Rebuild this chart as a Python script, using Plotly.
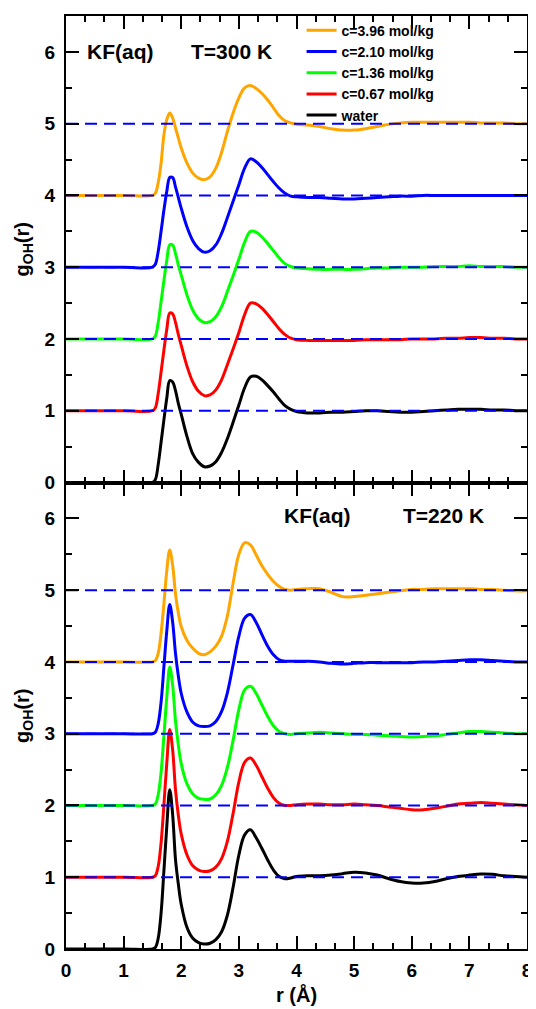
import plotly.graph_objects as go
from plotly.subplots import make_subplots

# ---------------- data ----------------
r = [0.0, 1.0, 1.5, 1.55, 1.6, 1.65, 1.7, 1.75, 1.8, 1.85, 1.9, 1.95,
     2.0, 2.1, 2.2, 2.3, 2.4, 2.5, 2.6, 2.7, 2.8, 2.9, 3.0, 3.1, 3.2, 3.3,
     3.4, 3.5, 3.6, 3.7, 3.8, 3.9, 4.0,
     4.2, 4.4, 4.6, 4.8, 5.0, 5.2, 5.4, 5.6, 5.8, 6.0, 6.2, 6.4, 6.6, 6.8,
     7.0, 7.2, 7.4, 7.6, 7.8, 8.0]

labels = ["c=3.96 mol/kg", "c=2.10 mol/kg", "c=1.36 mol/kg", "c=0.67 mol/kg", "water"]
colors = ["#FFA500", "#0000FF", "#00FF00", "#FF0000", "#000000"]
offsets = [4, 3, 2, 1, 0]
dash_levels = [1, 2, 3, 4, 5]

# T = 300 K
g300_c396 = [0, 0, 0, 0.03, 0.18, 0.45, 0.85, 1.06, 1.15, 1.08, 0.94, 0.80,
             0.66, 0.45, 0.31, 0.24, 0.22, 0.26, 0.38, 0.60, 0.89, 1.15, 1.36, 1.50, 1.53, 1.49,
             1.42, 1.33, 1.22, 1.11, 1.04, 1.01, 0.99,
             0.98, 0.96, 0.93, 0.91, 0.91, 0.93, 0.96, 0.99, 1.01, 1.02, 1.02, 1.02, 1.02, 1.02,
             1.02, 1.01, 1.01, 1.01, 1.00, 1.00]
g300_c210 = [0, 0, 0, 0.04, 0.22, 0.50, 0.80, 1.06, 1.25, 1.25, 1.12, 0.97,
             0.82, 0.56, 0.37, 0.26, 0.21, 0.23, 0.31, 0.47, 0.69, 0.92, 1.15, 1.38, 1.51, 1.47,
             1.39, 1.29, 1.19, 1.10, 1.03, 0.99, 0.98,
             0.97, 0.97, 0.96, 0.95, 0.95, 0.96, 0.97, 0.98, 0.99, 0.99, 1.00, 1.00, 1.00, 1.00,
             1.00, 1.00, 1.00, 1.00, 1.00, 1.00]
g300_c136 = [0, 0, 0, 0.04, 0.23, 0.52, 0.82, 1.10, 1.31, 1.31, 1.19, 1.03,
             0.89, 0.61, 0.40, 0.28, 0.23, 0.24, 0.31, 0.45, 0.66, 0.88, 1.11, 1.35, 1.50, 1.49,
             1.42, 1.33, 1.23, 1.13, 1.05, 1.01, 0.99,
             0.98, 0.97, 0.97, 0.97, 0.97, 0.98, 0.99, 0.99, 1.00, 1.00, 1.00, 1.01, 1.01, 1.01,
             1.02, 1.01, 1.01, 1.01, 1.00, 1.00]
g300_c067 = [0, 0, 0, 0.04, 0.24, 0.54, 0.85, 1.14, 1.36, 1.35, 1.23, 1.06,
             0.91, 0.62, 0.40, 0.27, 0.21, 0.22, 0.29, 0.43, 0.64, 0.86, 1.09, 1.34, 1.50, 1.49,
             1.43, 1.34, 1.24, 1.14, 1.06, 1.01, 0.99,
             0.98, 0.98, 0.98, 0.98, 0.98, 0.99, 0.99, 0.99, 0.99, 1.00, 1.00, 1.00, 1.01, 1.01,
             1.02, 1.02, 1.01, 1.01, 1.00, 1.00]
g300_water = [0, 0, 0, 0.04, 0.25, 0.56, 0.88, 1.18, 1.42, 1.40, 1.28, 1.10,
              0.95, 0.64, 0.40, 0.28, 0.22, 0.23, 0.29, 0.42, 0.61, 0.84, 1.08, 1.32, 1.47, 1.48,
              1.43, 1.35, 1.26, 1.16, 1.07, 1.02, 0.99,
              0.97, 0.97, 0.98, 0.98, 0.99, 1.00, 1.00, 0.99, 0.98, 0.98, 0.99, 1.00, 1.01, 1.02,
              1.02, 1.02, 1.01, 1.01, 1.00, 1.00]

# T = 220 K
g220_c396 = [0, 0, 0, 0.02, 0.12, 0.40, 0.82, 1.28, 1.56, 1.35, 0.95, 0.68,
             0.49, 0.30, 0.19, 0.12, 0.10, 0.14, 0.22, 0.36, 0.64, 1.10, 1.50, 1.66, 1.63, 1.49,
             1.34, 1.22, 1.12, 1.05, 1.01, 1.00, 1.01,
             1.02, 1.02, 0.97, 0.91, 0.91, 0.93, 0.95, 0.97, 0.99, 1.01, 1.01, 1.02, 1.02, 1.02,
             1.02, 1.01, 1.01, 1.00, 0.99, 0.99]
g220_c210 = [0, 0, 0, 0.02, 0.14, 0.44, 0.94, 1.44, 1.80, 1.56, 1.12, 0.80,
             0.56, 0.30, 0.16, 0.11, 0.10, 0.11, 0.17, 0.31, 0.57, 0.96, 1.36, 1.61, 1.66, 1.55,
             1.38, 1.22, 1.10, 1.03, 1.01, 1.01, 1.01,
             1.01, 1.00, 0.98, 0.97, 0.98, 0.99, 0.99, 0.99, 0.99, 0.99, 1.00, 1.00, 1.01, 1.02,
             1.03, 1.03, 1.02, 1.01, 1.00, 1.00]
g220_c136 = [0, 0, 0, 0.02, 0.15, 0.46, 0.98, 1.52, 1.93, 1.68, 1.18, 0.84,
             0.58, 0.30, 0.16, 0.10, 0.085, 0.09, 0.15, 0.28, 0.53, 0.91, 1.34, 1.61, 1.66, 1.56,
             1.40, 1.24, 1.11, 1.03, 1.00, 0.99, 1.00,
             1.01, 1.02, 1.01, 1.00, 0.99, 0.99, 0.98, 0.97, 0.96, 0.955, 0.96, 0.97, 0.99, 1.01,
             1.03, 1.03, 1.02, 1.01, 1.00, 1.00]
g220_c067 = [0, 0, 0, 0.02, 0.15, 0.48, 1.02, 1.60, 2.06, 1.78, 1.22, 0.86,
             0.60, 0.31, 0.16, 0.10, 0.08, 0.09, 0.14, 0.26, 0.50, 0.89, 1.33, 1.60, 1.66, 1.56,
             1.40, 1.24, 1.11, 1.03, 1.00, 1.00, 1.01,
             1.02, 1.02, 1.01, 1.01, 1.02, 1.01, 1.00, 0.98, 0.96, 0.94, 0.94, 0.96, 0.99, 1.02,
             1.03, 1.04, 1.03, 1.02, 1.01, 1.00]
g220_water = [0, 0, 0, 0.02, 0.15, 0.50, 1.10, 1.72, 2.22, 1.88, 1.25, 0.90,
              0.62, 0.30, 0.15, 0.09, 0.07, 0.08, 0.13, 0.24, 0.47, 0.86, 1.31, 1.59, 1.66, 1.55,
              1.40, 1.24, 1.10, 1.01, 0.98, 0.99, 1.01,
              1.02, 1.02, 1.03, 1.05, 1.07, 1.06, 1.03, 0.98, 0.94, 0.92, 0.92, 0.94, 0.98, 1.01,
              1.03, 1.045, 1.04, 1.02, 1.01, 1.00]

series300 = [g300_c396, g300_c210, g300_c136, g300_c067, g300_water]
series220 = [g220_c396, g220_c210, g220_c136, g220_c067, g220_water]

# ---------------- figure ----------------
FONT = "Liberation Sans"
fig = make_subplots(rows=2, cols=1, shared_xaxes=True, vertical_spacing=0)

for row, series in ((1, series300), (2, series220)):
    for name, col, off, g in zip(labels, colors, offsets, series):
        fig.add_trace(go.Scatter(
            x=r, y=[v + off for v in g], mode="lines", name=name,
            line=dict(color=col, width=3, shape="spline", smoothing=1.0),
            showlegend=(row == 1)), row=row, col=1)
    for lev in dash_levels:
        fig.add_trace(go.Scatter(
            x=[0, 8], y=[lev, lev], mode="lines", showlegend=False, hoverinfo="skip",
            line=dict(color="#0000FF", width=2, dash="12px,7px")), row=row, col=1)

tickfont = dict(family=FONT, size=19, color="black", weight="bold")
common = dict(showline=True, linecolor="black", linewidth=2, mirror="ticks",
              ticks="inside", tickcolor="black", tickwidth=1.5, ticklen=13,
              showgrid=False, zeroline=False, tickfont=tickfont)

fig.update_xaxes(range=[0, 8], tick0=0, dtick=1, ticklabeloverflow="allow",
                 minor=dict(dtick=1/3, ticks="inside", ticklen=6, tickcolor="black",
                            tickwidth=1.5, showgrid=False), **common)
fig.update_xaxes(showticklabels=False, row=1, col=1)
fig.update_xaxes(title=dict(text="r (Å)", font=dict(family=FONT, size=20, color="black", weight="bold"),
                            standoff=8), ticklabelstandoff=3, row=2, col=1)
fig.update_yaxes(range=[0, 6.5], tick0=0, dtick=1, ticklabelstandoff=5,
                 minor=dict(dtick=0.5, ticks="inside", ticklen=6, tickcolor="black",
                            tickwidth=1.5, showgrid=False),
                 title=dict(text="g<sub>OH</sub>(r)", standoff=10,
                            font=dict(family=FONT, size=20, color="black", weight="bold")),
                 **common)

ann_font = dict(family=FONT, size=21, color="black", weight="bold")
fig.add_annotation(text="KF(aq)", x=0.945, y=6.0, xref="x", yref="y", showarrow=False, font=ann_font)
fig.add_annotation(text="T=300 K", x=2.87, y=6.0, xref="x", yref="y", showarrow=False, font=ann_font)
fig.add_annotation(text="KF(aq)", x=4.36, y=6.04, xref="x2", yref="y2", showarrow=False, font=ann_font)
fig.add_annotation(text="T=220 K", x=6.55, y=6.04, xref="x2", yref="y2", showarrow=False, font=ann_font)

# the page body adds an 8 px offset, so the figure is 8 px smaller than the window
fig.update_layout(
    width=528, height=1001,
    margin=dict(l=58, r=4, t=8, b=60),
    plot_bgcolor="white", paper_bgcolor="white",
    font=dict(family=FONT, color="black"),
    legend=dict(x=0.511, y=1.0014, xanchor="left", yanchor="top",
                bgcolor="rgba(0,0,0,0)", borderwidth=0, tracegroupgap=0,
                font=dict(family=FONT, size=14, color="black", weight="bold")),
)

fig.write_html("out.html")
